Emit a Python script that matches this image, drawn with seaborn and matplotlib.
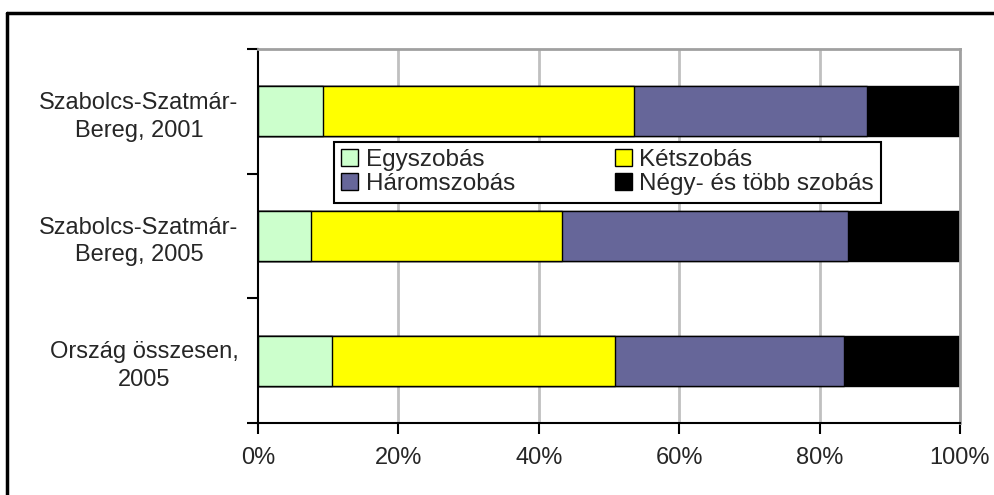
import matplotlib
matplotlib.use('Agg')
import matplotlib.pyplot as plt
from matplotlib.lines import Line2D
from matplotlib.patches import Patch
from matplotlib.ticker import PercentFormatter
import numpy as np
import pandas as pd
import seaborn as sns

# %% data (shares in %)
regions = ['Szabolcs-Szatmár-\nBereg, 2001', 'Szabolcs-Szatmár-\nBereg, 2005', 'Ország összesen,\n2005']
rooms = ['Egyszobás', 'Kétszobás', 'Háromszobás', 'Négy- és több szobás']
egy = [9.3, 7.5, 10.5]
ket = [44.2, 35.8, 40.4]
harom = [33.2, 40.8, 32.6]
negy = [13.3, 15.9, 16.5]
cols = ['#CCFFCC', '#FFFF00', '#666699', '#000000']

df = pd.DataFrame({'region': regions, 'Egyszobás': egy, 'Kétszobás': ket,
                   'Háromszobás': harom, 'Négy- és több szobás': negy})
cum = df[rooms].cumsum(axis=1)

sns.set_style('white')
plt.rcParams['font.family'] = ['Liberation Sans', 'DejaVu Sans']

fig = plt.figure(figsize=(9.94, 4.95), dpi=100)
ax = fig.add_axes([258/994, 1-423/495, (960-258)/994, (423-49)/495])

# vertical grid behind bars
for v in [20, 40, 60, 80, 100]:
  ax.axvline(v, color='#c0c0c0', lw=2, zorder=0)

# stacked bars: draw cumulative totals, biggest first
for i in range(len(rooms)-1, -1, -1):
  sns.barplot(x=cum[rooms[i]], y=df['region'], orient='h', color=cols[i],
              saturation=1, width=0.4, edgecolor='black', linewidth=1,
              ax=ax, zorder=2)

ax.set_xlim(0, 100)
ax.set_ylim(2.5, -0.5)
ax.set_xlabel('')
ax.set_ylabel('')
ax.set_xticks([0, 20, 40, 60, 80, 100])
ax.xaxis.set_major_formatter(PercentFormatter(decimals=0))
ax.tick_params(axis='x', direction='out', length=8, width=1.5, color='black',
               labelsize=17, pad=9, bottom=True)

# category boundaries get the ticks, labels sit in between
ax.set_yticks([-0.5, 0.5, 1.5, 2.5])
ax.set_yticklabels([])
ax.tick_params(axis='y', which='major', direction='out', length=8, width=1.5,
               color='black', left=True)
ax.set_yticks([0, 1, 2], minor=True)
ax.set_yticklabels(regions, minor=True, fontsize=17, multialignment='center',
                   linespacing=1.35)
ax.tick_params(axis='y', which='minor', length=0, pad=14)

for s in ['left', 'bottom']:
  ax.spines[s].set_color('black')
  ax.spines[s].set_linewidth(1.5)
for s in ['top', 'right']:
  ax.spines[s].set_color('#a0a0a0')
  ax.spines[s].set_linewidth(2)

handles = [Patch(facecolor=c, edgecolor='black', lw=1) for c in cols]
order = [0, 2, 1, 3]
leg = fig.legend([handles[k] for k in order], [rooms[k] for k in order], ncol=2,
                 loc='upper left', bbox_to_anchor=(334/994, 1-142/495),
                 fontsize=17.5, frameon=True, fancybox=False, edgecolor='black',
                 framealpha=1, borderpad=0.3, labelspacing=0.08,
                 handlelength=0.7, handleheight=0.7, handletextpad=0.3,
                 columnspacing=4.1, borderaxespad=0)
leg.get_frame().set_linewidth(1.5)

# outer chart frame (cut at right and bottom)
fig.add_artist(Line2D([7/994, 7/994], [0, 1-13/495], color='black', lw=2.5))
fig.add_artist(Line2D([7/994, 1], [1-13/495, 1-13/495], color='black', lw=2.5))

fig.savefig('out.png', dpi=100)
